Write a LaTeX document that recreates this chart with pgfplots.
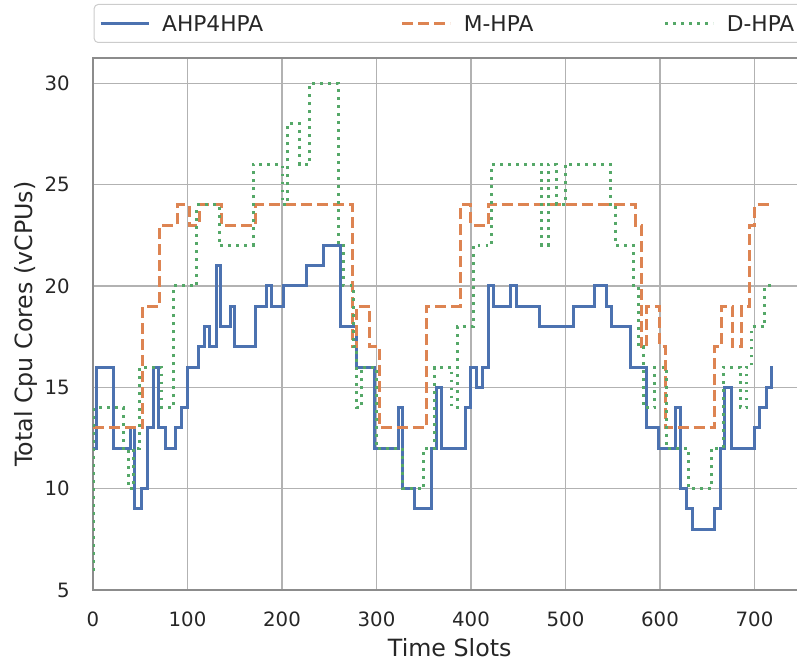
\documentclass[border=0pt]{standalone}
\usepackage{fontspec}
\setmainfont{DejaVu Sans}
\usepackage{pgfplots}
\pgfplotsset{compat=1.18}
\definecolor{cblue}{HTML}{4C72B0}
\definecolor{corange}{HTML}{DD8452}
\definecolor{cgreen}{HTML}{55A868}
\definecolor{ctext}{HTML}{262626}
\begin{document}
\begin{tikzpicture}
\begin{axis}[
    name=ax,
    scale only axis,
    width=535.1pt, height=399pt,
    xmin=0, xmax=755, ymin=5, ymax=31.25,
    xtick={0,100,...,700}, ytick={5,10,...,30},
    grid=major,
    grid style={black!30, line width=0.9pt},
    axis line style={black!45, line width=1.5pt},
    major tick length=0pt, tick style={draw=none},
    /pgf/number format/assume math mode=true,
    ticklabel style={font=\fontsize{14.8}{17}\selectfont, text=ctext, inner sep=0pt},
    xticklabel style={anchor=base, yshift=-27.5pt},
    yticklabel style={anchor=east, xshift=-17.25pt},
    xlabel={Time Slots},
    ylabel={Total Cpu Cores (vCPUs)},
    every axis x label/.style={at={([yshift=-50pt]axis description cs:0.5,0)}, anchor=base,
        font=\fontsize{17.8}{21}\selectfont, text=ctext},
    every axis y label/.style={at={([xshift=-45pt]axis description cs:0,0.5)}, rotate=90, anchor=base,
        font=\fontsize{17.8}{21}\selectfont, text=ctext},
    legend columns=3,
    legend cell align=left,
    legend style={at={([xshift=0.5pt,yshift=11.25pt]axis description cs:0,1)},
        anchor=south west, draw=black!20, line width=0.75pt, rounded corners=3pt,
        inner xsep=3.75pt, inner ysep=8.3pt,
        font=\fontsize{16.3}{19}\selectfont, text=ctext,
        nodes={inner sep=0pt, text height=11.9pt, text depth=0pt}},
    legend image code/.code={\draw[#1] (0pt,0pt) -- (36pt,0pt); \path (45pt,0pt);},
    const plot,
]

% AHP4HPA
\addplot[cblue, line width=2.25pt] coordinates {
(0,12) (4,16) (21.5,12) (39.2,13) (44.4,9) (51.5,10) (57.5,13) (63.8,16) (69.1,13)
(76.2,12) (87.8,13) (93.8,14) (99.8,16) (111.4,17) (118.5,18) (123,17) (130.2,21)
(135.4,18) (146,19) (150,17) (172,19) (184,20) (189,19) (201.4,20) (226,21) (243.7,22)
(261.4,18) (279,16) (298.4,12) (323,14) (327.7,10) (340.7,9) (358.4,12) (363,15)
(369,12) (393.7,14) (399.7,16) (406,15) (412.4,16) (418.3,20) (424.3,19) (442,20)
(448.3,19) (472.3,18) (508.3,19) (531.2,20) (543.6,19) (548.9,18) (568.3,16) (585.9,13)
(598.2,12) (615.9,14) (621.9,10) (628.2,9) (634.6,8) (658.2,9) (663.5,12) (668.7,15)
(675.8,12) (700.5,13) (705.8,14) (712.9,15) (718.2,16) (719.5,16)
};
\addlegendentry{\makebox[179pt][l]{AHP4HPA}}

% M-HPA
\addplot[corange, line width=2.25pt, dash pattern=on 8.25pt off 3.75pt] coordinates {
(0,13) (52.6,19) (70.9,23) (89.2,24) (101.6,23) (112.2,24) (136.2,23) (172.2,24)
(274.8,17) (279,19) (293.1,17) (303.7,13) (352.7,19) (389,24) (399.7,23) (419,24)
(574.6,23) (580.6,17) (585.9,19) (600,17) (605.3,13) (658.2,17) (665.3,19) (676.9,17)
(686.4,19) (694.5,23) (700.5,24) (720,24)
};
\addlegendentry{\makebox[150pt][l]{M-HPA}}

% D-HPA
\addplot[cgreen, line width=2.25pt, dash pattern=on 2.2pt off 3.8pt] coordinates {
(0,6) (1,14) (32.1,12) (37.4,10) (42.7,12) (49.7,16) (72.7,14) (85,20) (109.7,24)
(133.7,22) (169.7,26) (200.3,24) (205.6,28) (219,26) (229.6,30) (259.6,22) (264.9,20)
(275.4,17) (279,14) (284.3,16) (300.2,12) (327,10) (350,12) (361.9,16) (379.6,14)
(385.5,18) (402.4,22) (421.9,26) (474.8,22) (481.8,26) (490.7,24) (499.5,26) (547.8,24)
(553.4,22) (571.8,20) (577.5,17) (582.8,14) (594.7,16) (607,12) (630,10) (654.7,12)
(667,16) (684.7,14) (691.7,16) (697,18) (711,20) (720,20)
};
\addlegendentry{\makebox[120pt][l]{D-HPA}}

\end{axis}
\pgfresetboundingbox
\path[use as bounding box] ([shift={(-69.75pt,-55.5pt)}]ax.south west)
    rectangle ([shift={(528pt,43.5pt)}]ax.north west);
\end{tikzpicture}
\end{document}
